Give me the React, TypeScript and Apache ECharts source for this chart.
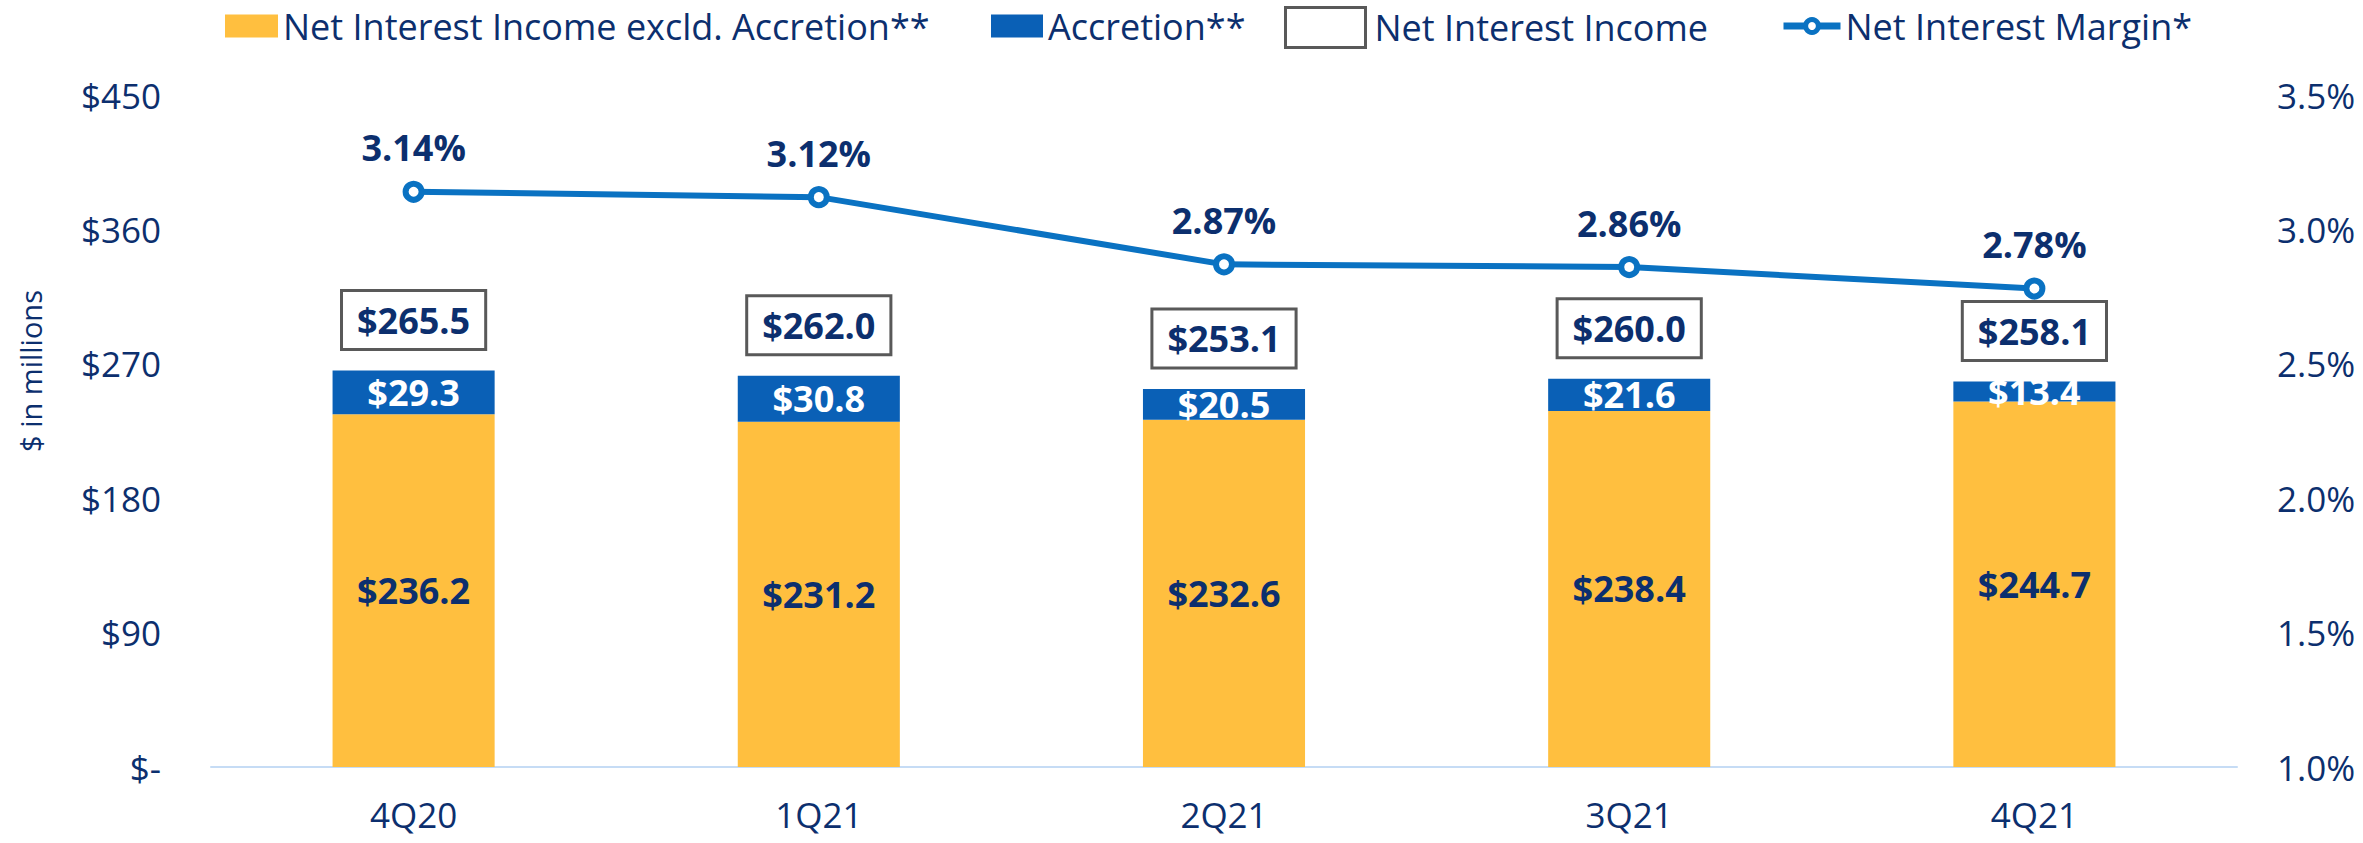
import React, { useEffect, useRef } from "react";
import * as echarts from "echarts";

const categories = ["4Q20", "1Q21", "2Q21", "3Q21", "4Q21"];
const niiExclAccretion = [236.2, 231.2, 232.6, 238.4, 244.7];
const accretion = [29.3, 30.8, 20.5, 21.6, 13.4];
const netInterestIncome = [265.5, 262.0, 253.1, 260.0, 258.1];
const netInterestMargin = [3.14, 3.12, 2.87, 2.86, 2.78];

const NAVY = "#0c2f6e";
const YELLOW = "#ffbf3f";
const BLUE = "#0a60b6";
const LINE = "#0a72c2";
const FONT = "'Open Sans', 'Noto Sans', sans-serif";

export default function App() {
  const ref = useRef<HTMLDivElement>(null);
  useEffect(() => {
    if (!ref.current) return;
    const chart = echarts.init(ref.current, undefined, { renderer: "svg" });
    const legendText = { color: NAVY, fontSize: 36, fontFamily: FONT, lineHeight: 40 };
    chart.setOption({
      animation: false,
      textStyle: { fontFamily: FONT },
      legend: [
        {
          left: 225, top: 6, padding: 0, itemWidth: 53, itemHeight: 23,
          textStyle: legendText,
          data: [{ name: "Net Interest Income excld. Accretion**", icon: "rect" }],
        },
        {
          left: 991, top: 6, padding: 0, itemWidth: 52, itemHeight: 23,
          textStyle: legendText,
          data: [{ name: "Accretion**", icon: "rect" }],
        },
        {
          left: 1284, top: 6, padding: 0, itemWidth: 80, itemHeight: 40,
          textStyle: { ...legendText, padding: [0, 0, 0, 4] },
          data: [{
            name: "Net Interest Income", icon: "rect",
            itemStyle: { color: "#ffffff", borderColor: "#595959", borderWidth: 3, opacity: 1 },
          }],
        },
        {
          left: 1780, top: 6, padding: 0, itemWidth: 57, itemHeight: 16,
          textStyle: legendText,
          data: [{
            name: "Net Interest Margin*",
            lineStyle: { color: LINE, width: 7 },
            itemStyle: { color: "#ffffff", borderColor: LINE, borderWidth: 5 },
          }],
        },
      ],
      grid: { left: 211, right: 126, top: 95, bottom: 76 },
      xAxis: {
        type: "category",
        data: categories,
        axisLine: { lineStyle: { color: "#c6dcf5", width: 2 } },
        axisTick: { show: false },
        axisLabel: { color: NAVY, fontSize: 35, margin: 30, fontFamily: FONT },
      },
      yAxis: [
        {
          type: "value", min: 0, max: 450, interval: 90,
          splitLine: { show: false },
          axisLine: { show: false }, axisTick: { show: false },
          axisLabel: {
            color: NAVY, fontSize: 35, margin: 50, fontFamily: FONT,
            formatter: (v: number) => (v === 0 ? "$-" : "$" + v),
          },
        },
        {
          type: "value", min: 1.0, max: 3.5, interval: 0.5,
          splitLine: { show: false },
          axisLine: { show: false }, axisTick: { show: false },
          axisLabel: {
            color: NAVY, fontSize: 35, margin: 40, fontFamily: FONT,
            formatter: (v: number) => v.toFixed(1) + "%",
          },
        },
      ],
      graphic: [
        {
          type: "text", x: 30, y: 371, rotation: Math.PI / 2,
          style: {
            text: "$ in millions", fontSize: 29, fill: NAVY, fontFamily: FONT,
            align: "center", verticalAlign: "middle",
          },
        },
      ],
      series: [
        {
          name: "Net Interest Income excld. Accretion**",
          type: "bar", stack: "nii", barWidth: "40%",
          data: niiExclAccretion,
          itemStyle: { color: YELLOW },
          label: {
            show: true, position: "inside", color: NAVY, fontWeight: "bold",
            fontSize: 36, fontFamily: FONT,
            formatter: (p: any) => "$" + Number(p.value).toFixed(1),
          },
        },
        {
          name: "Accretion**",
          type: "bar", stack: "nii", barWidth: "40%",
          data: accretion,
          itemStyle: { color: BLUE },
          label: {
            show: true, position: "inside", color: "#ffffff", fontWeight: "bold",
            fontSize: 36, fontFamily: FONT,
            formatter: (p: any) => "$" + Number(p.value).toFixed(1),
          },
        },
        {
          name: "Net Interest Income",
          type: "scatter",
          data: netInterestIncome,
          symbolSize: 1,
          itemStyle: { color: "rgba(255,255,255,0)", opacity: 1 },
          z: 5,
          label: {
            show: true, position: "top", distance: 22,
            color: NAVY, fontWeight: "bold", fontSize: 36, fontFamily: FONT,
            lineHeight: 38, opacity: 1,
            backgroundColor: "#ffffff", borderColor: "#595959", borderWidth: 3,
            padding: [9, 14, 9, 14],
            formatter: (p: any) => "$" + Number(p.value).toFixed(1),
          },
        },
        {
          name: "Net Interest Margin*",
          type: "line", yAxisIndex: 1,
          data: netInterestMargin,
          symbol: "circle", symbolSize: 16,
          lineStyle: { color: LINE, width: 6 },
          itemStyle: { color: "#ffffff", borderColor: LINE, borderWidth: 6 },
          label: {
            show: true, position: "top", distance: 15,
            color: NAVY, fontWeight: "bold", fontSize: 36, fontFamily: FONT,
            formatter: (p: any) => Number(p.value).toFixed(2) + "%",
          },
        },
      ],
    });
    return () => chart.dispose();
  }, []);
  return (
    <div
      ref={ref}
      style={{ position: "absolute", left: 0, top: 0, width: 2363, height: 843, background: "#ffffff" }}
    />
  );
}
